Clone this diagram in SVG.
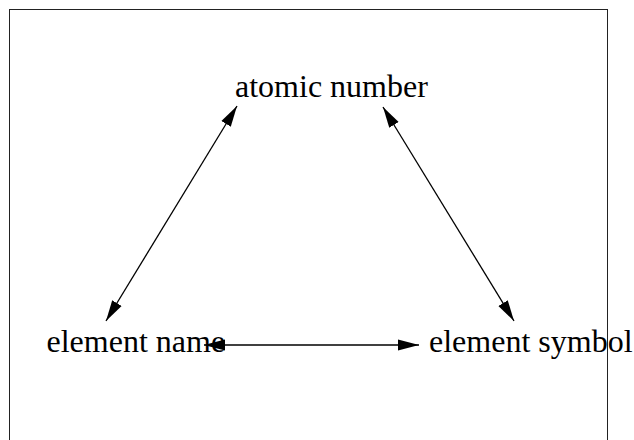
<svg xmlns="http://www.w3.org/2000/svg" width="634" height="440" viewBox="0 0 634 440">
<style>
text{font-family:"Liberation Serif","Times New Roman",serif;font-size:32px;fill:#000}
.edge{stroke:#000;stroke-width:1.3;fill:none;marker-start:url(#ah);marker-end:url(#ah)}
</style>
<defs>
<marker id="ah" markerUnits="userSpaceOnUse" markerWidth="21" markerHeight="14" refX="21" refY="7" orient="auto-start-reverse">
<path d="M0,1.5 L21,7 L0,12.5 z" fill="#000"/>
</marker>
</defs>
<rect x="9.5" y="9.5" width="598" height="440" fill="#fff" stroke="#222" stroke-width="1"/>
<g id="connectors">
<line class="edge" x1="237" y1="106" x2="106" y2="321"/>
<line class="edge" x1="383" y1="107" x2="514" y2="321"/>
<line class="edge" x1="204" y1="345" x2="419" y2="345"/>
</g>
<g id="atomic-number"><text x="235" y="97">atomic number</text></g>
<g id="element-name"><text x="46.5" y="352">element name</text></g>
<g id="element-symbol"><text x="429" y="352">element symbol</text></g>
</svg>
